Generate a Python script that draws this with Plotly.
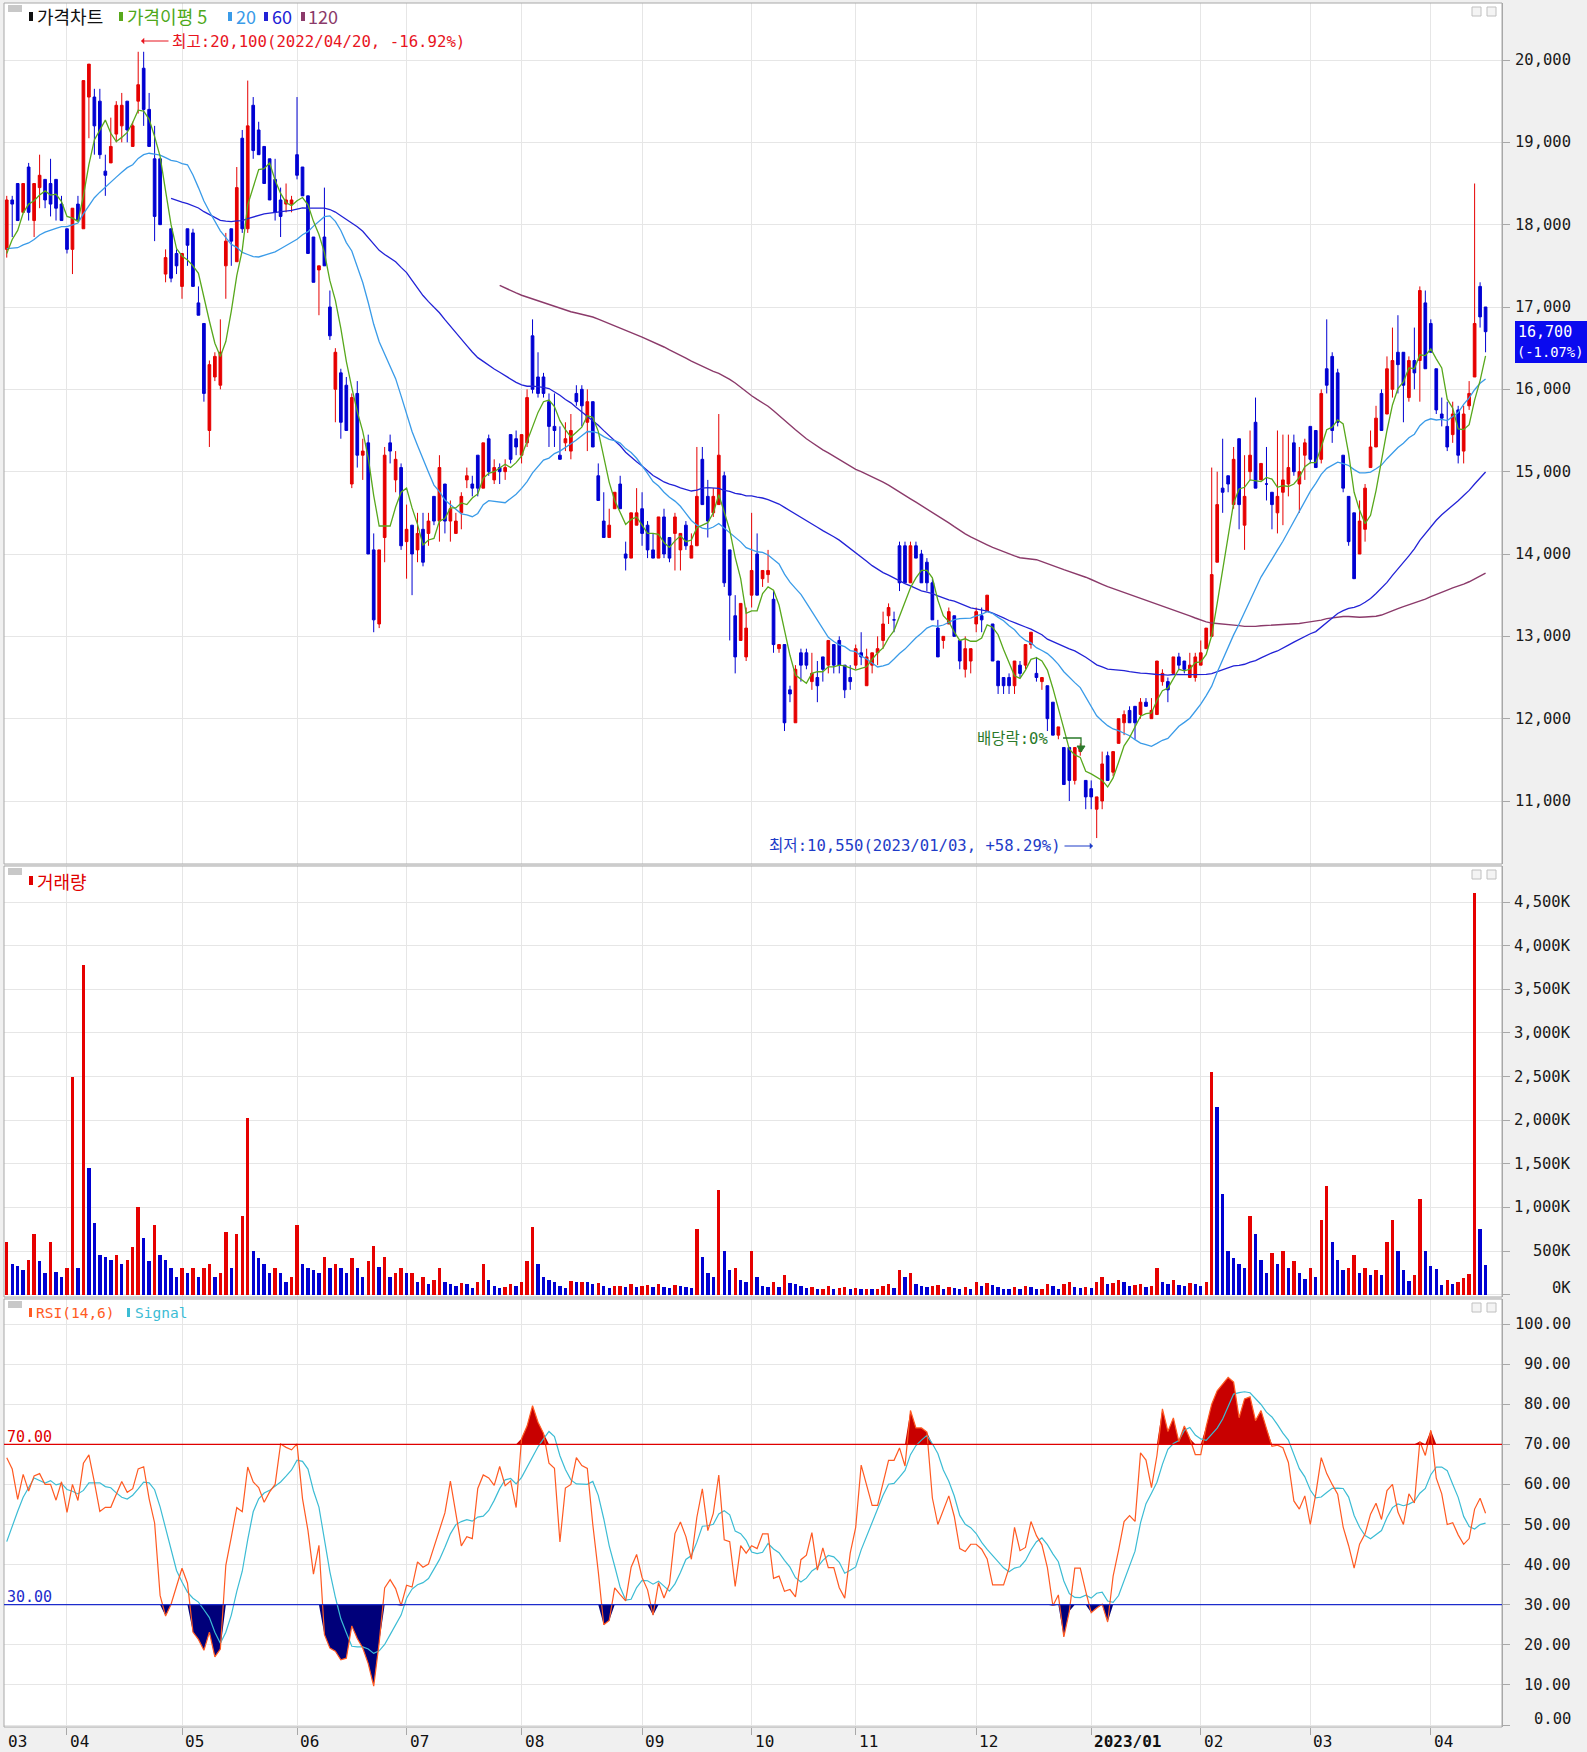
import numpy as np
import pandas as pd
import plotly.graph_objects as go

# ---------------- data ----------------
# closes before the visible window (only feed the moving averages / RSI)
pre_close = [19000, 18900, 18750, 18800, 18600, 18650, 18450, 18550, 18400, 18400,
             18150, 17950, 17800, 17700, 17650, 17500, 17600, 17750, 17800, 17650, 17700,
             17750, 17600, 17550, 17800, 17400, 17500, 17450, 17600]
pre_volume_k = 250

opens = (
    [17700, 18300, 18500, 18150, 18700, 18050, 18450, 18550, 18500, 18550, 18250] +
    [17950, 17700, 18250, 17950, 19550, 19550, 19500, 18650, 18750, 19100, 19200, 19500, 18950, 19500, 19900, 19400, 18800, 18800, 17400, 17950, 17650] +
    [17250, 17950, 17900, 17050, 16800, 15500, 16150, 16050, 17500, 17950, 17550, 19050, 17950, 19450, 19150, 18950, 18800, 18550, 18300, 18250, 18250] +
    [18850, 18700, 18350, 17850, 17450, 17850, 17000, 16000, 16200, 16050, 14850, 15950, 15200, 15350, 14050, 13150, 14200, 15350, 14900, 15050] +
    [14150, 14350, 14050, 14300, 14250, 14700, 14400, 14850, 14400, 14250, 14500, 14900, 14850, 15200, 14800, 15400, 14900, 15050, 15000, 15450, 15400] +
    [15200, 15350, 16650, 16150, 16150, 15850, 15550, 15200, 15350, 15250, 15950, 16000, 15600, 15850, 14950, 14400, 14200, 14550, 14850, 14000, 13950, 14350] +
    [14550, 14350, 14050, 13950, 14450, 14200, 14250, 14050, 14350, 13950, 14100, 15150, 14700, 14500, 14600, 14950, 14050, 13250, 12950, 12750] +
    [13500, 14000, 13700, 13750, 13450, 12850, 12900, 12350, 11950, 12800, 12800, 12450, 12500, 12750, 12650, 12900, 12950, 12650, 12500] +
    [12650, 12800, 12400, 12650, 12800, 12950, 13250, 13200, 14100, 14100, 13650, 14100, 14000, 13900, 13650, 13100, 12950, 13150, 13250, 12950, 12600, 12700] +
    [13150, 13250, 13300, 13150, 12700, 12500, 12500, 12400, 12650, 12650, 12900, 12550, 12450, 12400, 12200, 11800, 11650, 11650, 11250, 11600, 11250] +
    [11150, 10900, 11000, 11550, 11350, 11700, 11950, 12100, 12150, 12050, 12200, 12000, 12050, 12450, 12450, 12550, 12750, 12700, 12500, 12500] +
    [12650, 12850, 13000, 13900, 14800, 14950, 14600, 15400, 14350, 15000, 15600, 14900, 14850, 14750, 14500, 14750, 14850, 15350, 14850, 15200] +
    [15550, 15500, 15150, 16250, 16400, 16200, 15200, 14700, 14500, 14000, 14300, 15050, 15300, 15950, 15700, 16000, 16450, 16450, 15900, 16350, 16350, 17050] +
    [16800, 16250, 15700, 15550, 15450, 15750, 15250, 15800, 16150, 17250, 17000]
)
highs = (
    [18350, 18350, 18500, 18500, 18750, 18500, 18850, 18550, 18800, 18550, 18350] +
    [17950, 18200, 18350, 19750, 19950, 19650, 19650, 18850, 19300, 19500, 19600, 19500, 19250, 20100, 20100, 19600, 19200, 18800, 17700, 17950, 17700] +
    [17650, 17950, 17950, 17250, 16800, 16350, 16450, 16850, 17900, 17950, 18700, 19150, 19750, 19550, 19250, 18950, 18800, 18800, 18450, 18500, 18350] +
    [19550, 18700, 18350, 17850, 17500, 18450, 17200, 16500, 16250, 16150, 15950, 16100, 15400, 15450, 14250, 14050, 15300, 15450, 15250, 15100] +
    [14600, 14350, 14500, 14500, 14500, 14700, 15200, 14850, 14650, 14500, 14750, 15050, 14950, 15200, 15350, 15450, 15150, 15100, 15150, 15450, 15500] +
    [15450, 16000, 16850, 16450, 16200, 15950, 15950, 15550, 15600, 15700, 16050, 16050, 16000, 15850, 15100, 14750, 14550, 14750, 14950, 14150, 14500, 14800] +
    [14750, 14400, 14250, 14450, 14550, 14200, 14500, 14250, 14400, 14250, 15300, 15300, 14900, 14800, 15700, 15000, 14050, 13500, 13400, 13350] +
    [14500, 14250, 13800, 14050, 13550, 12900, 12900, 12400, 12650, 12850, 12850, 12800, 12700, 12750, 12950, 12900, 13000, 12650, 12650] +
    [12900, 13050, 12850, 12800, 13000, 13300, 13400, 13300, 14150, 14150, 14150, 14150, 14050, 13950, 13700, 13200, 13000, 13350, 13250, 12950, 13000, 12850] +
    [13350, 13350, 13500, 13150, 12700, 12500, 12550, 12700, 12700, 12900, 13050, 12750, 12500, 12400, 12200, 11900, 11650, 11650, 11650, 11700, 11250] +
    [11250, 11050, 11600, 11600, 11600, 12000, 12100, 12150, 12150, 12250, 12250, 12250, 12700, 12600, 12500, 12750, 12800, 12700, 12800, 12800] +
    [12950, 13100, 15050, 15000, 15400, 14950, 15300, 15400, 15200, 15500, 15900, 15100, 15300, 14750, 15500, 15450, 15450, 15450, 15300, 15400] +
    [15550, 15500, 16000, 16850, 16450, 16250, 15200, 14700, 14500, 14650, 14850, 15500, 15800, 16000, 16400, 16750, 16900, 16450, 16400, 16750, 17250, 17200] +
    [16850, 16250, 15900, 15850, 15850, 15800, 15800, 16100, 18500, 17300, 17000]
)
lows = (
    [17600, 17850, 18050, 18150, 18050, 17850, 18200, 18200, 18100, 18050, 18050] +
    [17650, 17400, 18050, 17950, 19050, 18850, 18800, 18350, 18750, 19000, 19000, 19000, 18950, 19350, 19200, 18950, 17800, 18000, 17300, 17300, 17400] +
    [17100, 17500, 17250, 16900, 15850, 15300, 16100, 16000, 17100, 17500, 17550, 17900, 17900, 18800, 18850, 18500, 18300, 18050, 17850, 18150, 18150] +
    [18550, 18350, 17650, 17300, 16900, 17500, 16600, 15600, 15400, 15500, 14800, 15050, 14900, 14000, 13050, 13100, 13900, 15100, 14750, 14050] +
    [13700, 13500, 13900, 13850, 14100, 14350, 14150, 14250, 14150, 14250, 14300, 14800, 14700, 14700, 14800, 14950, 14850, 14850, 14900, 15100, 15200] +
    [15100, 15300, 15950, 15900, 15900, 15300, 15300, 15150, 15250, 15150, 15800, 15550, 15250, 15300, 14650, 14200, 14200, 14550, 14550, 13800, 13950, 14350] +
    [14100, 13950, 13950, 13950, 13950, 13900, 13800, 13800, 14050, 13950, 14100, 14600, 14200, 14450, 14600, 13600, 12950, 12550, 12950, 12700] +
    [13350, 13500, 13600, 13650, 12800, 12800, 11850, 12200, 11950, 12450, 12600, 12350, 12200, 12450, 12550, 12550, 12550, 12250, 12350] +
    [12600, 12650, 12400, 12550, 12650, 12850, 13150, 13050, 13550, 13650, 13650, 13950, 13650, 13550, 13200, 12750, 12850, 13150, 13000, 12600, 12500, 12550] +
    [13050, 13050, 13300, 12700, 12300, 12300, 12300, 12300, 12500, 12600, 12850, 12450, 12350, 11850, 11800, 11750, 11200, 11000, 11200, 11550, 10900] +
    [10900, 10550, 10900, 11250, 11300, 11700, 11800, 11950, 11750, 12000, 12150, 12000, 12050, 12400, 12200, 12550, 12600, 12550, 12500, 12450] +
    [12650, 12850, 13000, 13900, 14500, 14750, 14550, 14300, 14050, 14900, 14800, 14900, 14650, 14300, 14250, 14350, 14700, 14950, 14500, 14900] +
    [15100, 15050, 15100, 15950, 15350, 15550, 14750, 14100, 13700, 14000, 14150, 15050, 15300, 15500, 15700, 15900, 15950, 15600, 15850, 16000, 15850, 16250] +
    [16450, 15700, 15550, 15250, 15350, 15100, 15100, 15750, 16150, 16750, 16450]
)
closes = (
    [18300, 18250, 18050, 18500, 18150, 18500, 18600, 18300, 18250, 18200, 18050] +
    [17700, 18200, 18050, 19750, 19950, 19200, 18850, 18600, 18950, 19450, 19450, 19150, 19200, 19700, 19400, 18950, 18100, 18000, 17600, 17350, 17500] +
    [17650, 17750, 17250, 16900, 15950, 16300, 16400, 16450, 17800, 17800, 18450, 17950, 19200, 18900, 18850, 18500, 18300, 18150, 18100, 18300, 18300] +
    [18600, 18350, 17650, 17300, 17500, 17500, 16650, 16450, 15600, 15500, 15900, 15200, 15250, 14000, 13200, 14050, 15200, 15250, 15150, 14100] +
    [14300, 14000, 14250, 13900, 14400, 14400, 15050, 14400, 14550, 14400, 14700, 14950, 14800, 14800, 15350, 15000, 15050, 15000, 15050, 15150, 15300] +
    [15450, 15900, 16000, 15950, 15950, 15550, 15500, 15150, 15400, 15500, 15850, 15800, 15850, 15300, 14650, 14200, 14350, 14750, 14550, 13950, 14500, 14500] +
    [14250, 14050, 13950, 14450, 14000, 13950, 14450, 14250, 14100, 14100, 14700, 14600, 14400, 14700, 15200, 13650, 13500, 12750, 13400, 13100] +
    [13800, 13500, 13800, 13800, 12900, 12900, 11950, 12300, 12600, 12650, 12650, 12550, 12400, 12600, 12950, 12650, 12650, 12350, 12450] +
    [12850, 12750, 12750, 12800, 12850, 13150, 13350, 13200, 13650, 13650, 14100, 13950, 13650, 13650, 13200, 12750, 13000, 13300, 13000, 12700, 12850, 12850] +
    [13300, 13200, 13500, 12700, 12400, 12400, 12400, 12700, 12550, 12900, 13050, 12500, 12500, 12000, 11800, 11900, 11200, 11250, 11650, 11650, 11050] +
    [11050, 11050, 11450, 11250, 11600, 12000, 12050, 11950, 11950, 12200, 12150, 12100, 12700, 12550, 12350, 12750, 12650, 12600, 12650, 12750] +
    [12800, 13100, 13750, 14600, 14750, 14850, 15150, 14600, 14700, 15200, 14800, 15100, 14850, 14600, 14700, 14900, 15050, 15000, 15000, 15350] +
    [15150, 15050, 15950, 16050, 15500, 15600, 14800, 14150, 13700, 14400, 14800, 15300, 15650, 15500, 16250, 16350, 16300, 16050, 16350, 16200, 17200, 16250] +
    [16450, 15750, 15650, 15300, 15700, 15200, 15700, 15950, 16800, 16880, 16700]
)
volume_k = (
    [600, 350, 330, 280, 400, 700, 380, 250, 600, 260, 200] +
    [300, 2500, 300, 3780, 1450, 820, 450, 430, 400, 450, 350, 400, 550, 1000, 650, 380, 800, 450, 400, 300, 200] +
    [300, 250, 300, 200, 300, 350, 200, 250, 720, 300, 700, 900, 2030, 500, 420, 350, 250, 300, 250, 150, 200] +
    [800, 350, 300, 280, 250, 430, 300, 350, 300, 250, 420, 300, 200, 380, 560, 320, 430, 200, 250, 300] +
    [250, 250, 150, 200, 120, 170, 310, 150, 120, 100, 130, 120, 80, 150, 350, 170, 100, 80, 90, 120, 100] +
    [150, 380, 770, 350, 200, 170, 140, 100, 80, 160, 140, 150, 140, 120, 130, 100, 80, 100, 100, 90, 120, 90] +
    [100, 110, 90, 120, 90, 80, 110, 100, 90, 80, 750, 430, 250, 200, 1200, 500, 280, 300, 170, 150] +
    [500, 200, 100, 90, 150, 90, 230, 130, 120, 100, 80, 90, 70, 70, 100, 70, 80, 90, 70] +
    [80, 60, 70, 60, 60, 100, 120, 80, 280, 200, 250, 120, 100, 90, 100, 110, 60, 90, 80, 70, 90, 60] +
    [150, 100, 130, 110, 90, 70, 60, 90, 60, 100, 90, 60, 60, 120, 100, 60, 120, 150, 90, 80, 90] +
    [80, 150, 200, 120, 130, 170, 150, 100, 110, 120, 90, 100, 300, 150, 120, 170, 110, 100, 130, 120] +
    [100, 150, 2550, 2150, 1150, 500, 420, 350, 300, 900, 700, 400, 250, 480, 350, 500, 300, 380, 250, 180] +
    [300, 200, 850, 1250, 600, 400, 280, 300, 450, 250, 300, 230, 280, 220, 600, 850, 500, 280, 160, 225, 1100, 505] +
    [330, 290, 115, 165, 125, 150, 190, 235, 4608, 755, 344]
)
# trading-day index where each month starts, and its label
month_idx = [11, 32, 53, 73, 94, 116, 136, 155, 177, 198, 218, 238, 260]
month_lbl = ["04", "05", "06", "07", "08", "09", "10", "11", "12", "2023/01", "02", "03", "04"]
first_lbl = "03"
price_ticks = [11000, 12000, 13000, 14000, 15000, 16000, 17000, 18000, 19000, 20000]
vol_ticks_k = [0, 500, 1000, 1500, 2000, 2500, 3000, 3500, 4000, 4500]
rsi_ticks = [0, 10, 20, 30, 40, 50, 60, 70, 80, 90, 100]
last_change_pct = "-1.07%"

n = len(closes)
assert len(opens) == n and len(highs) == n and len(lows) == n and len(volume_k) == n, (len(opens), len(highs), len(lows), n, len(volume_k))

# ---------------- indicators ----------------
npre = len(pre_close)
full = pd.Series(pre_close + closes, dtype=float)
def ma(k):
    return full.rolling(k).mean().iloc[npre:].to_numpy()
ma5, ma20, ma60, ma120 = ma(5), ma(20), ma(60), ma(120)
delta = full.diff()
au = delta.clip(lower=0).rolling(14).mean()
ad = (-delta).clip(lower=0).rolling(14).mean()
rsi_full = 100 * au / (au + ad)
sig_full = rsi_full.rolling(6).mean()
rsi = rsi_full.iloc[npre:].to_numpy()
sig = sig_full.iloc[npre:].to_numpy()
x = np.arange(n)

# ---------------- geometry helpers ----------------
W, H = 1587, 1752
ML, MR, MT, MB = 4, 85, 3, 25
PW = W - ML - MR
PH = H - MT - MB
PB = H - MB
def fx(p):
    return (p - ML) / PW
def fy(p):
    return (PB - p) / PH

P_TOP, P_BOT = 3, 864
V_TOP, V_BOT = 866, 1297
R_TOP, R_BOT = 1299, 1727

UP = "#e60000"
DN = "#0000d2"
GRID = "#e6e6e6"
BORDER = "#a8a8a8"
MONO = "DejaVu Sans Mono, Noto Sans CJK KR, monospace"
KFONT = "Noto Sans CJK KR, sans-serif"
LBL_RIGHT = 1573

fig = go.Figure()

fig.add_trace(go.Candlestick(
    x=x, open=opens, high=highs, low=lows, close=closes,
    increasing=dict(line=dict(color=UP, width=1), fillcolor=UP),
    decreasing=dict(line=dict(color=DN, width=1), fillcolor=DN),
    whiskerwidth=0, xaxis="x", yaxis="y", hoverinfo="skip"))

for arr, col, wd in [(ma120, "#8b3a6a", 1.4), (ma60, "#2222d6", 1.3),
                     (ma20, "#3a9be8", 1.3), (ma5, "#58a81c", 1.3)]:
    fig.add_trace(go.Scatter(x=x, y=arr, mode="lines", line=dict(color=col, width=wd),
                             xaxis="x", yaxis="y", hoverinfo="skip"))

# volume bars: red when volume rose versus the previous day, blue when it fell
prev_vol = [pre_volume_k] + volume_k[:-1]
vcol = [UP if v >= p else DN for v, p in zip(volume_k, prev_vol)]
fig.add_trace(go.Bar(x=x, y=np.array(volume_k) * 1000, marker=dict(color=vcol, line=dict(width=0)),
                     width=0.62, xaxis="x2", yaxis="y2", hoverinfo="skip"))

# RSI fills above 70 / below 30
fig.add_trace(go.Scatter(x=x, y=np.full(n, 70.0), mode="lines", line=dict(width=0),
                         xaxis="x3", yaxis="y3", hoverinfo="skip"))
fig.add_trace(go.Scatter(x=x, y=np.maximum(rsi, 70), mode="lines", line=dict(width=0),
                         fill="tonexty", fillcolor="#c80000", xaxis="x3", yaxis="y3", hoverinfo="skip"))
fig.add_trace(go.Scatter(x=x, y=np.full(n, 30.0), mode="lines", line=dict(width=0),
                         xaxis="x3", yaxis="y3", hoverinfo="skip"))
fig.add_trace(go.Scatter(x=x, y=np.minimum(rsi, 30), mode="lines", line=dict(width=0),
                         fill="tonexty", fillcolor="#00007a", xaxis="x3", yaxis="y3", hoverinfo="skip"))
fig.add_trace(go.Scatter(x=x, y=sig, mode="lines", line=dict(color="#3cbcd4", width=1.2),
                         xaxis="x3", yaxis="y3", hoverinfo="skip"))
fig.add_trace(go.Scatter(x=x, y=rsi, mode="lines", line=dict(color="#ff5a22", width=1.2),
                         xaxis="x3", yaxis="y3", hoverinfo="skip"))

# ---------------- axes ----------------
XR = [-0.5, 273.0]
xcommon = dict(range=XR, tickvals=month_idx, showticklabels=False, showgrid=True,
               gridcolor=GRID, gridwidth=1, zeroline=False, showline=False, fixedrange=True)

def yrange(top_val, bot_val, top_px, bot_px, dom_top, dom_bot):
    k = (bot_px - top_px) / (top_val - bot_val)
    return [bot_val - (dom_bot - bot_px) / k, top_val + (top_px - dom_top) / k]

p_rng = yrange(20000, 11000, 60, 801, P_TOP, P_BOT)
v_rng = yrange(4500e3, 500e3, 902, 1251, V_TOP, V_BOT)
r_rng = yrange(100, 0, 1324, 1725, R_TOP, R_BOT)

ycommon = dict(side="right", showgrid=True, gridcolor=GRID, gridwidth=1, zeroline=False,
               showline=True, linecolor=BORDER, linewidth=1, ticks="outside", ticklen=7,
               tickcolor=BORDER, showticklabels=False, fixedrange=True)

fig.update_layout(
    width=W, height=H, margin=dict(l=ML, r=MR, t=MT, b=MB),
    paper_bgcolor="#f0f0f0", plot_bgcolor="#ffffff", showlegend=False,
    xaxis=dict(**xcommon, anchor="y", rangeslider=dict(visible=False)),
    xaxis2=dict(**xcommon, anchor="y2", matches="x"),
    xaxis3=dict(**xcommon, anchor="y3", matches="x", ticks="outside", ticklen=7, tickcolor=BORDER),
    yaxis=dict(**ycommon, domain=[fy(P_BOT), fy(P_TOP)], range=p_rng, tickvals=price_ticks, anchor="x"),
    yaxis2=dict(**ycommon, domain=[fy(V_BOT), fy(V_TOP)], range=v_rng,
                tickvals=[v * 1000 for v in vol_ticks_k], anchor="x2"),
    yaxis3=dict(**ycommon, domain=[fy(R_BOT), fy(R_TOP)], range=r_rng, tickvals=rsi_ticks, anchor="x3"),
    bargap=0,
)

shapes = []
for t, b in [(P_TOP, P_BOT), (V_TOP, V_BOT), (R_TOP, R_BOT)]:
    shapes.append(dict(type="rect", xref="paper", yref="paper", x0=0, x1=1, y0=fy(b), y1=fy(t),
                       line=dict(color=BORDER, width=1), layer="above"))
shapes.append(dict(type="line", xref="x3 domain", yref="y3", x0=0, x1=1, y0=70, y1=70,
                   line=dict(color="#e00000", width=1.2)))
shapes.append(dict(type="line", xref="x3 domain", yref="y3", x0=0, x1=1, y0=30, y1=30,
                   line=dict(color="#1c2ccc", width=1.2)))

def rect_px(x0, x1, y0, y1, color, line=None):
    shapes.append(dict(type="rect", xref="paper", yref="paper", x0=fx(x0), x1=fx(x1), y0=fy(y1), y1=fy(y0),
                       fillcolor=color, line=dict(width=0) if line is None else line, layer="above"))

for top in (P_TOP, V_TOP, R_TOP):
    rect_px(8, 22, top + 2, top + 9, "#c8c8c8")
    rect_px(1472, 1481, top + 4, top + 13, "#f4f4f4", dict(color="#c0c0c0", width=1))
    rect_px(1487, 1496, top + 4, top + 13, "#f4f4f4", dict(color="#c0c0c0", width=1))

rect_px(29, 33, 12, 21, "#111111")
rect_px(119, 123, 12, 21, "#58a81c")
rect_px(228, 232, 12, 21, "#3a9be8")
rect_px(264, 268, 12, 21, "#2222d6")
rect_px(301, 305, 12, 21, "#8b3a6a")
rect_px(29, 33, V_TOP + 10, V_TOP + 19, "#e00000")
rect_px(29, 32, R_TOP + 9, R_TOP + 18, "#ff5a22")
rect_px(127, 130, R_TOP + 9, R_TOP + 18, "#3cbcd4")

# last price box
rect_px(1515, 1587, 321, 363, "#0a0aef")

# 배당락 bracket
shapes.append(dict(type="path", xref="paper", yref="paper",
                   path=f"M {fx(1063)},{fy(738)} L {fx(1081)},{fy(738)} L {fx(1081)},{fy(748)}",
                   line=dict(color="#2a7a2a", width=1.3), layer="above"))
shapes.append(dict(type="path", xref="paper", yref="paper",
                   path=f"M {fx(1077)},{fy(746)} L {fx(1085)},{fy(746)} L {fx(1081)},{fy(752)} Z",
                   fillcolor="#2a7a2a", line=dict(color="#2a7a2a", width=1), layer="above"))

fig.update_layout(shapes=shapes)

ann = []
def text_px(xp, yp, txt, color, size=17, xanchor="left", family=KFONT, align="left"):
    ann.append(dict(xref="paper", yref="paper", x=fx(xp), y=fy(yp), text=txt, showarrow=False,
                    xanchor=xanchor, yanchor="middle", align=align,
                    font=dict(family=family, size=size, color=color)))

def arrow_px(x_tip, x_tail, yp, color):
    ann.append(dict(xref="paper", yref="paper", x=fx(x_tip), y=fy(yp),
                    axref="pixel", ayref="pixel", ax=x_tail - x_tip, ay=0, text="",
                    showarrow=True, arrowhead=1, arrowsize=0.9, arrowwidth=1.2, arrowcolor=color))

text_px(35, 16, "가격차트", "#111111", size=18)
text_px(125, 16, "가격이평 5", "#4ea81a", size=18)
text_px(234, 16, "20", "#3a9be8", size=18)
text_px(270, 16, "60", "#2222d6", size=18)
text_px(306, 16, "120", "#8b3a6a", size=18)

arrow_px(141, 170, 41, "#e8141e")
text_px(170, 41, "최고:20,100(2022/04/20, -16.92%)", "#e8141e", size=15.7, family=MONO)
arrow_px(1093, 1063, 846, "#1e3cc8")
text_px(1063, 846, "최저:10,550(2023/01/03, +58.29%)", "#1e3cc8", size=15.6, xanchor="right", family=MONO)
text_px(975, 739, "배당락:0%", "#2a7a2a", size=15.5, family=MONO)
text_px(35, V_TOP + 15, "거래량", "#e00000", size=18)
text_px(34, R_TOP + 14, "RSI(14,6)", "#ff5a22", size=14.5, family=MONO)
text_px(133, R_TOP + 14, "Signal", "#3cbcd4", size=14.5, family=MONO)
text_px(5, 1437, "70.00", "#e00000", size=15, family=MONO)
text_px(5, 1597, "30.00", "#1c2ccc", size=15, family=MONO)
text_px(1516, 332, f"{closes[-1]:,}", "#ffffff", size=15, family=MONO)
text_px(1515, 352, f"({last_change_pct})", "#ffffff", size=13.8, family=MONO)

# right-aligned axis labels
TF = dict(family=MONO, size=15.5, color="#1a1a1a")
for v in price_ticks:
    ann.append(dict(xref="paper", yref="y", x=fx(LBL_RIGHT), y=v, text=f"{v:,}", showarrow=False,
                    xanchor="right", yanchor="middle", font=TF))
for v in vol_ticks_k:
    ann.append(dict(xref="paper", yref="y2", x=fx(LBL_RIGHT), y=v * 1000, text=f"{v:,}K", showarrow=False,
                    xanchor="right", yanchor="middle", yshift=7 if v == 0 else 0, font=TF))
for v in rsi_ticks:
    ann.append(dict(xref="paper", yref="y3", x=fx(LBL_RIGHT), y=v, text=f"{v:.2f}", showarrow=False,
                    xanchor="right", yanchor="middle", yshift=6 if v == 0 else 0, font=TF))

ann.append(dict(xref="paper", yref="paper", x=fx(6), y=fy(1741), text=first_lbl, showarrow=False,
                xanchor="left", yanchor="middle", font=dict(family=MONO, size=16, color="#111")))
for mi, ml in zip(month_idx, month_lbl):
    t = f"<b>{ml}</b>" if "/" in ml else ml
    ann.append(dict(xref="x3", yref="paper", x=mi, y=fy(1741), text=t, showarrow=False,
                    xanchor="left", xshift=1, yanchor="middle",
                    font=dict(family=MONO, size=16, color="#111")))
fig.update_layout(annotations=ann)

fig.write_html("out.html", config={"displayModeBar": False},
               post_script="document.body.style.margin='0px';document.body.style.overflow='hidden';")
